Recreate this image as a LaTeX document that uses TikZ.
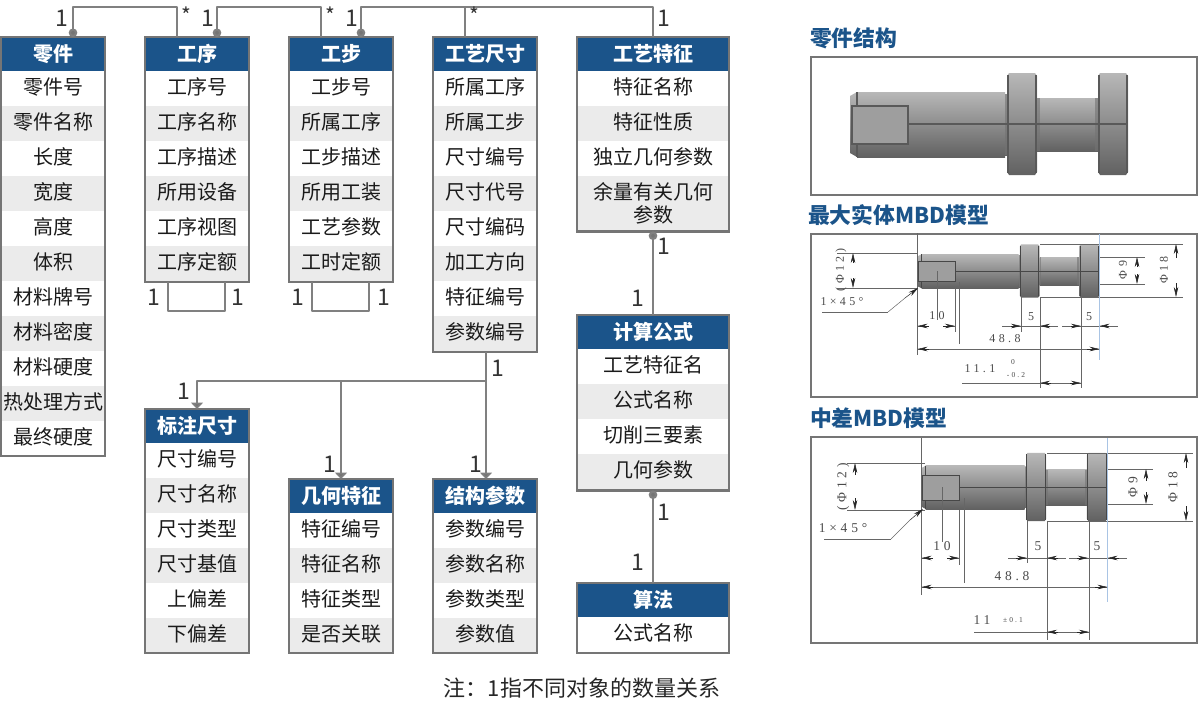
\documentclass[tikz,border=0pt]{standalone}
\usepackage{fontspec}
\usetikzlibrary{arrows.meta,positioning,fit}
\setmainfont{Noto Sans CJK SC}
\newfontfamily\dimfont[LetterSpace=28]{Liberation Serif}
\definecolor{headblue}{HTML}{1B548A}
\definecolor{rowgray}{HTML}{EBEBEB}
\definecolor{framegray}{HTML}{757575}
\definecolor{linkgray}{HTML}{808080}
\definecolor{bodyink}{HTML}{1A1A1A}
\definecolor{dimink}{HTML}{4A4A4A}
\definecolor{edgeblue}{HTML}{A9C4E4}

% header, striped rows, a thin filler, then the frame round them
\newcommand{\entityrows}[5]{%
  \node[headcell, minimum width=#3pt, anchor=north] (#1-0) at (#2) {#4};
  \foreach \txt [count=\i, remember=\i as \j (initially 0)] in {#5} {
    \ifodd\i \def\rowfill{white}\else \def\rowfill{rowgray}\fi
    \node[rowcell, minimum width=#3pt, fill=\rowfill, below=0pt of #1-\j] (#1-\i) {\txt};
    \xdef\lastrow{\i}
    \xdef\lastfill{\rowfill}
  }
}
\newcommand{\entityframe}[2]{%
  \node[framebox, fit=(#1-0)(#2)] (#1) {};
}
\newcommand{\entitybox}[6][1.5]{%
  \entityrows{#2}{#3}{#4}{#5}{#6}
  \node[padcell, minimum width=#4pt, minimum height=#1pt, fill=\lastfill,
    below=0pt of #2-\lastrow] (#2-end) {};
  \entityframe{#2}{#2-end}
}
% the shaft, in the units of the top panel
\newcommand{\shaftflange}[1]{%
  \shade[steel] (#1+2,-51) -- (#1+28,-51) -- (#1+30,-48) -- (#1+30,48) -- (#1+28,51)
    -- (#1+2,51) -- (#1,48) -- (#1,-48) -- cycle;
  \draw[shaftedge] (#1+1,-49) -- (#1+1,49);
  \draw[shaftedge] (#1+29,-49) -- (#1+29,49);
}
\newcommand{\shaftpart}{%
  \shade[steel] (0,-28) -- (7,-32) -- (7,33) -- (0,29) -- cycle;
  \shade[steel] (7,-32) rectangle (155,33);
  \shade[steel] (155,-30) rectangle (158,31);
  \shade[steel] (187,-26) rectangle (248,27);
  \fill[black!55,opacity=0.6] (155,-30) rectangle (158,31);
  \fill[black!55,opacity=0.6] (187,-26) rectangle (190,27);
  \fill[black!55,opacity=0.6] (245,-26) rectangle (248,27);
  \shaftflange{157}
  \shaftflange{248}
  \draw[shaftedge] (7,-32) -- (7,33);
  \draw[shaftedge,fill=black!38] (2,-18) rectangle (58,20);
  \draw[shaftedge] (58,0) -- (277,0);
}

\begin{document}
\begin{tikzpicture}[
  x=1pt,
  y=-1pt,
  every node/.style={text=bodyink, outer sep=0pt},
  headcell/.style={fill=headblue, text=white, font=\fontsize{20}{22}\selectfont\bfseries,
    minimum height=33.5pt, inner sep=0pt, text height=17.4pt, text depth=2.6pt},
  rowbase/.style={font=\fontsize{20}{23}\selectfont, minimum height=35pt, inner sep=0pt},
  rowcell/.style={rowbase, text height=16.6pt, text depth=3.4pt},
  padcell/.style={inner sep=0pt},
  framebox/.style={draw=framegray, line width=2.4pt, inner sep=0pt, fill=none},
  link/.style={draw=linkgray, line width=2.2pt, line join=round},
  dotlink/.style={link, {Circle[length=8.5pt, fill=framegray]}-},
  arrowlink/.style={link, -{Triangle[length=6.5pt, width=12pt, fill=framegray]}},
  mult/.style={font=\fontsize{23}{25}\selectfont, text=black!80, inner sep=0pt},
  star/.style={font=\fontsize{21}{23}\selectfont, text=black!80, inner sep=0pt},
  title/.style={font=\fontsize{21.8}{24}\selectfont\bfseries, text=headblue, anchor=west, inner sep=0pt},
  note/.style={font=\fontsize{22}{24}\selectfont, text=black!85, inner sep=0pt},
  panel/.style={draw=framegray, line width=2.4pt},
  steel/.style={top color=black!28, bottom color=black!62, shading angle=0},
  shaftedge/.style={draw=black!72, line width=1pt},
  dimline/.style={draw=black!60, line width=0.5pt},
  dimtip/.style={draw=black!85, line width=0.5pt, -{Stealth[length=10pt, width=4.5pt]}},
  blueedge/.style={draw=edgeblue, line width=0.6pt},
  dimsmall/.style={font=\dimfont\fontsize{12}{14}\selectfont, text=dimink, inner sep=0pt},
  dimbig/.style={font=\dimfont\fontsize{13.5}{15}\selectfont, text=dimink, inner sep=0pt},
  dimtiny/.style={font=\dimfont\fontsize{7.5}{9}\selectfont, text=dimink, inner sep=0pt}
]
  \useasboundingbox (0,0) rectangle (1198,704);

  % ---- entity boxes, top row --------------------------------------------
  \entitybox[0.5]{part}{53,37}{104}{零件}{零件号,零件名称,长度,宽度,高度,体积,材料牌号,材料密度,材料硬度,热处理方式,最终硬度}
  \entitybox{oper}{197,37}{104}{工序}{工序号,工序名称,工序描述,所用设备,工序视图,工序定额}
  \entitybox{stepbox}{341,37}{104}{工步}{工步号,所属工序,工步描述,所用工装,工艺参数,工时定额}
  \entitybox{size}{485,37}{104}{工艺尺寸}{所属工序,所属工步,尺寸编号,尺寸代号,尺寸编码,加工方向,特征编号,参数编号}
  \entityrows{feat}{653,37}{152}{工艺特征}{特征名称,特征性质,独立几何参数}
  \node[rowbase, minimum width=152pt, minimum height=56pt, fill=rowgray, align=center,
    below=0pt of feat-3] (feat-4) {余量有关几何\\参数};
  \entityframe{feat}{feat-4}

  % ---- entity boxes, lower ------------------------------------------------
  \entitybox[2]{calc}{653,315}{152}{计算公式}{工艺特征名,公式名称,切削三要素,几何参数}
  \entitybox{algo}{653,583}{152}{算法}{公式名称}
  \entitybox[0.5]{mark}{197,409}{104}{标注尺寸}{尺寸编号,尺寸名称,尺寸类型,尺寸基值,上偏差,下偏差}
  \entitybox[0.5]{geom}{341,479}{104}{几何特征}{特征编号,特征名称,特征类型,是否关联}
  \entitybox[0.5]{para}{485,479}{104}{结构参数}{参数编号,参数名称,参数类型,参数值}

  % ---- links along the top ------------------------------------------------
  \draw[dotlink] ([xshift=20pt]part.north) -- ++(0,-30) -| ([xshift=-20pt]oper.north);
  \draw[dotlink] ([xshift=20pt]oper.north) -- ++(0,-30) -| ([xshift=-20pt]stepbox.north);
  \draw[dotlink] ([xshift=20pt]stepbox.north) -- ++(0,-30) -| (feat.north);
  \draw[link] ([xshift=-20pt]size.north) -- ++(0,-30);

  % ---- self links -----------------------------------------------------------
  \draw[link] ([xshift=-29pt]oper.south) -- ++(0,29) -| ([xshift=28pt]oper.south);
  \draw[link] ([xshift=-29pt]stepbox.south) -- ++(0,29) -| ([xshift=28pt]stepbox.south);

  % ---- links below the size box --------------------------------------------
  \coordinate (sizefork) at ([xshift=1pt,yshift=-29pt]size.south);
  \draw[arrowlink] ([xshift=1pt]size.south) -- ([xshift=1pt]para.north);
  \draw[arrowlink] (sizefork) -| (mark.north);
  \draw[arrowlink] (geom.north |- sizefork) -- (geom.north);

  % ---- links on the right column ---------------------------------------------
  \draw[dotlink] (feat.south) -- (calc.north);
  \draw[dotlink] (calc.south) -- (algo.north);

  % ---- multiplicities -------------------------------------------------------
  \node[mult] (m1) at (62,18) {1};
  \node[star] (s1) at (186,15) {*};
  \node[mult] (m2) at (208,18) {1};
  \node[star] (s2) at (330,15) {*};
  \node[mult] (m3) at (352,18) {1};
  \node[star] (s3) at (474,15) {*};
  \node[mult] (m4) at (664,18) {1};
  \node[mult] (m5) at (154,297) {1};
  \node[mult] (m6) at (238,297) {1};
  \node[mult] (m7) at (298,297) {1};
  \node[mult] (m8) at (384,297) {1};
  \node[mult] (m9) at (498,368) {1};
  \node[mult] (m10) at (184,391) {1};
  \node[mult] (m11) at (330,464) {1};
  \node[mult] (m12) at (476,464) {1};
  \node[mult] (m13) at (664,246) {1};
  \node[mult] (m14) at (638,298) {1};
  \node[mult] (m15) at (664,512) {1};
  \node[mult] (m16) at (638,562) {1};

  % ---- the note ---------------------------------------------------------------
  \node[note] (footnote) at (582,688) {注：1指不同对象的数量关系};

  % ---- right column: titles and frames -----------------------------------------
  \node[title] (title1) at (810,38) {零件结构};
  \node[title] (title2) at (808,215) {最大实体MBD模型};
  \node[title] (title3) at (810,418) {中差MBD模型};
  \draw[panel] (811,57) rectangle (1197,195);
  \draw[panel] (811,234) rectangle (1197,397);
  \draw[panel] (811,437) rectangle (1197,643);

  % ---- the three shafts --------------------------------------------------------
  \begin{scope}[shift={(850,124)}, shaftedge/.append style={line width=1.8pt, draw=black!65}]
    \shaftpart
  \end{scope}
  \begin{scope}[shift={(917,271)}, xscale=0.655, yscale=0.52]
    \shaftpart
  \end{scope}
  \begin{scope}[shift={(921,487)}, xscale=0.669, yscale=0.667]
    \shaftpart
  \end{scope}

  % ---- middle panel: dimensions ---------------------------------------------
  \foreach \a/\b/\c/\d in {917.5/233/917.5/355, 837/253/917/253, 837/288/917/288,
      955/288/955/332, 937/271/937/320, 959/282/959/344, 1021/297/1021/332,
      1040/297/1040/388, 1081/297/1081/388, 1040/244/1183/244, 1040/297/1183/297,
      1100/257/1145/257, 1100/284/1145/284, 917/349/1099/349, 962/383/1081/383,
      1002/326/1058/326, 1062/326/1118/326, 917/326/929/326, 943/326/955/326,
      822/312/888/312, 888/312/905/298}
    \draw[dimline] (\a,\b) -- (\c,\d);
  \draw[blueedge] (1099.5,234) -- (1099.5,360);
  \foreach \a/\b/\c/\d in {853/263/853/253, 853/278/853/288, 1137/267/1137/257, 1137/274/1137/284,
      1176/258/1176/244, 1176/283/1176/297, 929/326/917.5/326, 943/326/955/326,
      1011/326/1021/326, 1050/326/1040/326, 1071/326/1081/326, 1109/326/1099.5/326,
      929/349/917.5/349, 1087/349/1099.5/349, 1051/383/1040/383, 1070/383/1081/383,
      905/298/918/288}
    \draw[dimtip] (\a,\b) -- (\c,\d);
  \node[dimsmall, rotate=90] (b-phi12) at (841,270) {(Φ12)};
  \node[dimsmall, rotate=90] (b-phi9) at (1123,270) {Φ9};
  \node[dimsmall, rotate=90] (b-phi18) at (1164,270) {Φ18};
  \node[dimsmall] (b-cham) at (842,302) {1×45°};
  \node[dimsmall] (b-ten) at (937,316) {10};
  \node[dimsmall] (b-five1) at (1031,317) {5};
  \node[dimsmall] (b-five2) at (1089,317) {5};
  \node[dimsmall] (b-len) at (1005,339) {48.8};
  \node[dimsmall] (b-hub) at (980,369) {11.1};
  \node[dimtiny] (b-up) at (1013,362) {0};
  \node[dimtiny] (b-lo) at (1016,375) {-0.2};

  % ---- lower panel: dimensions ----------------------------------------------
  \foreach \a/\b/\c/\d in {921.5/438/921.5/595, 847/463/925/463, 847/510/925/510,
      959/510/959/565, 942/487/942/542, 964/498/964/583, 1027/521/1027/563,
      1047/521/1047/640, 1089/521/1089/640, 1047/453/1193/453, 1047/521/1193/521,
      1107/469/1153/469, 1107/504/1153/504, 921/587/1107/587, 974/632/1089/632,
      1008/558/1066/558, 1069/558/1127/558, 824/539/891/539, 891/539/910/520,
      921/558/933/558, 947/558/959/558}
    \draw[dimline] (\a,\b) -- (\c,\d);
  \draw[blueedge] (1107.5,438) -- (1107.5,602);
  \foreach \a/\b/\c/\d in {855/475/855/463, 855/498/855/510, 1146/481/1146/469, 1146/492/1146/504,
      1186/468/1186/453, 1186/506/1186/521, 933/558/921.5/558, 947/558/959/558,
      1016/558/1027/558, 1058/558/1047/558, 1077/558/1088/558, 1119/558/1107.5/558,
      933/587/921.5/587, 1095/587/1107.5/587, 1058/632/1047/632, 1077/632/1089/632,
      910/520/923/509}
    \draw[dimtip] (\a,\b) -- (\c,\d);
  \node[dimbig, rotate=90] (c-phi12) at (843,487) {(Φ12)};
  \node[dimbig, rotate=90] (c-phi9) at (1133,487) {Φ9};
  \node[dimbig, rotate=90] (c-phi18) at (1173,487) {Φ18};
  \node[dimbig] (c-cham) at (843,528) {1×45°};
  \node[dimbig] (c-ten) at (942,546) {10};
  \node[dimbig] (c-five1) at (1038,546) {5};
  \node[dimbig] (c-five2) at (1097,546) {5};
  \node[dimbig] (c-len) at (1012,576) {48.8};
  \node[dimbig] (c-hub) at (982,620) {11};
  \node[dimtiny] (c-tol) at (1013,620) {±0.1};
\end{tikzpicture}
\end{document}
